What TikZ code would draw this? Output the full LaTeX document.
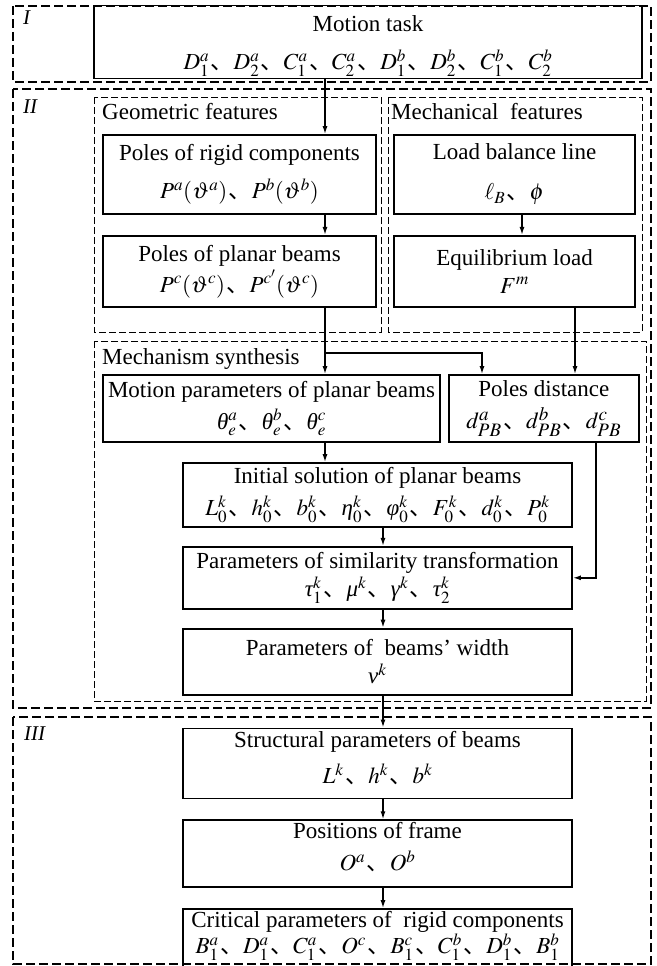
\documentclass[tikz,border=0pt]{standalone}
\usepackage{mathptmx}
\usepackage{fontspec}
\setmainfont{Liberation Serif}
\newfontfamily\cjk{Noto Sans CJK SC}
\newcommand\dn{\kern1.5pt{\cjk 、}}
\newcommand\gi[1]{\textit{#1}}
\newcommand\dpb[1]{d^{\hbox{\fontsize{19}{19}\selectfont$#1$}}_{\hbox{\fontsize{19}{19}\selectfont$PB$}}}
\usetikzlibrary{arrows.meta,positioning}

\begin{document}
\begin{tikzpicture}[
x=1pt, y=-1pt,
node distance=20pt,
font=\fontsize{23}{26}\selectfont,
box/.style={draw, line width=1.8pt, inner sep=2pt, align=center},
region/.style={draw, line width=1.8pt, dash pattern=on 9pt off 4pt},
group/.style={draw, line width=0.9pt, dash pattern=on 7pt off 3pt},
tag/.style={anchor=base west, inner sep=0pt, font=\fontsize{21}{24}\selectfont\itshape},
grouptitle/.style={anchor=base west, inner sep=0pt},
flow/.style={->, line width=1.4pt},
>={Latex[length=8pt,width=5pt]}
]
\useasboundingbox (0,0) rectangle (656,966);

% stages and groups
\draw[region] (13,6) rectangle (651,82);
\draw[region] (13,89) rectangle (651,708);
\draw[region] (13,717) rectangle (651,964);
\draw[group] (94,97) rectangle (381,332);
\draw[group] (388,97) rectangle (642,332);
\draw[group] (94,341) rectangle (646,701);

\node[tag] (stI) at (23,25) {I};
\node[tag] (stII) at (23,113) {II};
\node[tag] (stIII) at (24,740) {III};
\node[grouptitle] (geo) at (102,119) {Geometric features};
\node[grouptitle] (mec) at (391,119) {Mechanical\ \ features};
\node[grouptitle] (syn) at (102,364) {Mechanism synthesis};

% boxes
\node[box, minimum width=548pt, minimum height=68pt] (task) at (368,42) {\rule{0pt}{24pt}Motion task\\[12pt]
  $D_1^a$\dn $D_2^a$\dn $C_1^a$\dn $C_2^a$\dn $D_1^b$\dn $D_2^b$\dn $C_1^b$\dn $C_2^b$};
\node[box, minimum width=273pt, minimum height=79pt] (rigid) at (239.5,174.5) {Poles of rigid components\\[12pt]
  $P^{a}(\vartheta^{a})$\dn $P^{b}(\vartheta^{b})$};
\node[box, minimum width=273pt, minimum height=71pt, below=of rigid] (planar) {Poles of planar beams\\[3pt]
  $P^{c}(\vartheta^{c})$\dn $P^{c'}(\vartheta^{c})$};
\node[box, minimum width=241pt, minimum height=79pt] (load) at (514.5,174.5) {Load balance line\\[14pt]
  $\ell_{B}$\dn $\phi$};
\node[box, minimum width=241pt, minimum height=71pt, below=of load] (equil) {Equilibrium load\\[2pt]
  $F^{m}$};
\node[box, minimum width=337pt, minimum height=67pt] (motion) at (271.5,408.5) {Motion parameters of planar beams\\[5pt]
  $\gi{θ}_e^a$\dn $\gi{θ}_e^b$\dn $\gi{θ}_e^c$};
\node[box, minimum width=190pt, minimum height=67pt, right=7pt of motion] (dist) {Poles distance\\[6pt]
  $\dpb{a}$\dn $\dpb{b}$\dn $\dpb{c}$};
\node[box, minimum width=389pt, minimum height=64pt] (init) at (377.5,495) {Initial solution of planar beams\\[6pt]
  $L_0^k$\dn $h_0^k$\dn $b_0^k$\dn $\gi{η}_0^k$\dn $\gi{φ}_0^k$\dn $F_0^k$\dn $d_0^k$\dn $P_0^k$};
\node[box, minimum width=389pt, minimum height=62pt, below=18pt of init] (sim) {Parameters of similarity transformation\\[2pt]
  $\gi{τ}_1^k$\dn $\gi{μ}^k$\dn $\gi{γ}^k$\dn $\gi{τ}_2^k$};
\node[box, minimum width=389pt, minimum height=66pt, below=18pt of sim] (width) {Parameters of\ \ beams' width\\[2pt]
  $\gi{ν}^k$};
\node[box, minimum width=389pt, minimum height=70pt, below=32pt of width] (struct) {Structural parameters of beams\\[10pt]
  $L^k$\dn $h^k$\dn $b^k$\rule[-12pt]{0pt}{1pt}};
\node[box, minimum width=389pt, minimum height=67pt, below=of struct] (frame) {Positions of frame\\[6pt]
  $O^a$\dn $O^b$\rule[-14pt]{0pt}{1pt}};
\node[box, minimum width=389pt, minimum height=62pt, below=of frame] (crit) {Critical parameters of\ \ rigid components\\
  $B_1^a$\dn $D_1^a$\dn $C_1^a$\dn $O^c$\dn $B_1^c$\dn $C_1^b$\dn $D_1^b$\dn $B_1^b$\rule[-15pt]{0pt}{1pt}};

% arrow columns
\coordinate (col) at (325,0);
\coordinate (ccol) at (383,0);
\coordinate (dcol) at (482,0);
\coordinate (mcol) at (522,0);
\coordinate (ecol) at (575,0);
\coordinate (pcol) at (596,0);
\coordinate (fork) at (325,353);

\draw[flow] (task.south -| col) -- (rigid.north -| col);
\draw[flow] (rigid.south -| col) -- (planar.north -| col);
\draw[flow] (planar.south -| col) -- (motion.north -| col);
\draw[flow] (fork) -| (dist.north -| dcol);
\draw[flow] (load.south -| mcol) -- (equil.north -| mcol);
\draw[flow] (equil.south -| ecol) -- (dist.north -| ecol);
\draw[flow] (motion.south -| col) -- (init.north -| col);
\draw[flow] (init.south -| ccol) -- (sim.north -| ccol);
\draw[flow] (dist.south -| pcol) |- (sim.east);
\draw[flow] (sim.south -| ccol) -- (width.north -| ccol);
\draw[flow] (width.south -| ccol) -- (struct.north -| ccol);
\draw[flow] (struct.south -| ccol) -- (frame.north -| ccol);
\draw[flow] (frame.south -| ccol) -- (crit.north -| ccol);
\end{tikzpicture}
\end{document}
